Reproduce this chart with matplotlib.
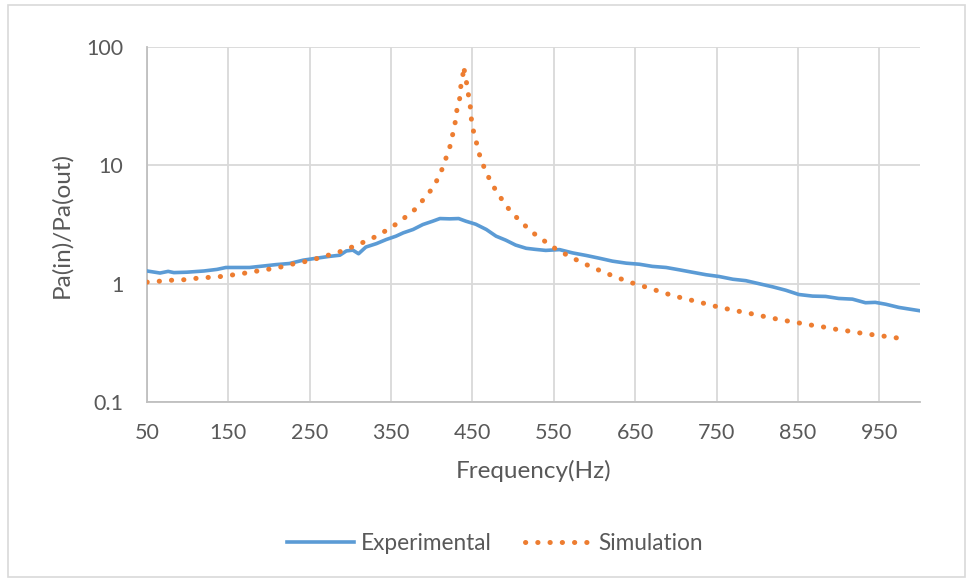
import matplotlib
matplotlib.use("Agg")
import matplotlib.pyplot as plt
from matplotlib.patches import Rectangle
from matplotlib.ticker import FixedLocator, NullLocator

# Experimental curve
exp_freq = [50, 66, 76, 83, 99, 120, 136, 147, 160, 176, 193, 209, 225, 242, 258,
            274, 287, 295, 303, 310, 319, 332, 344, 356, 365, 377, 389, 401, 410,
            422, 433, 442, 454, 467, 479, 491, 503, 516, 527, 540, 557, 573, 590,
            606, 622, 639, 655, 671, 688, 704, 720, 737, 753, 770, 786, 802, 819,
            835, 851, 868, 884, 900, 917, 933, 945, 958, 974, 1000]
exp_ratio = [1.28, 1.23, 1.27, 1.24, 1.25, 1.28, 1.32, 1.37, 1.37, 1.37, 1.41, 1.45,
             1.48, 1.58, 1.64, 1.70, 1.74, 1.89, 1.92, 1.79, 2.04, 2.18, 2.36, 2.52,
             2.69, 2.87, 3.16, 3.37, 3.55, 3.53, 3.55, 3.37, 3.18, 2.87, 2.52, 2.33,
             2.12, 1.99, 1.95, 1.91, 1.94, 1.82, 1.73, 1.64, 1.55, 1.49, 1.46, 1.40,
             1.37, 1.31, 1.25, 1.19, 1.15, 1.09, 1.06, 1.00, 0.94, 0.88, 0.81, 0.785,
             0.78, 0.75, 0.74, 0.69, 0.695, 0.67, 0.63, 0.59]

# Simulation curve
sim_freq = [50, 66, 81, 96, 111, 126, 141, 157, 171, 186, 201, 216, 230, 245, 260,
            274, 289, 302, 316, 330, 343, 356, 368, 380, 389, 399, 407, 413, 418,
            423, 426, 429, 431, 434, 435, 438, 439, 442, 444, 447, 448, 450, 454,
            457, 462, 468, 475, 483, 491, 501, 512, 523, 535, 547, 560, 573, 587,
            601, 615, 629, 643, 658, 672, 686, 700, 715, 730, 744, 759, 774, 789,
            804, 818, 833, 848, 863, 878, 892, 907, 922, 937, 952, 967, 985]
sim_ratio = [1.03, 1.05, 1.07, 1.08, 1.11, 1.13, 1.15, 1.19, 1.23, 1.28, 1.33, 1.39,
             1.47, 1.54, 1.64, 1.75, 1.88, 2.04, 2.24, 2.48, 2.79, 3.18, 3.67, 4.28,
             5.08, 6.17, 7.6, 9.4, 11.8, 14.9, 18.7, 23.5, 29.8, 34.7, 44.0, 55.6,
             68.5, 54.0, 42.8, 33.8, 26.7, 20.9, 16.6, 13.3, 10.5, 8.4, 6.75, 5.55,
             4.58, 3.81, 3.22, 2.73, 2.39, 2.07, 1.84, 1.65, 1.48, 1.34, 1.22, 1.12,
             1.03, 0.96, 0.895, 0.833, 0.78, 0.736, 0.695, 0.655, 0.62, 0.59, 0.564,
             0.536, 0.512, 0.489, 0.47, 0.45, 0.435, 0.416, 0.403, 0.387, 0.374,
             0.363, 0.351, 0.34]

x_ticks = [50, 150, 250, 350, 450, 550, 650, 750, 850, 950]
y_ticks = [0.1, 1, 10, 100]
y_labels = ["0.1", "1", "10", "100"]

BLUE = "#5B9BD5"
ORANGE = "#ED7D31"
GRID = "#D9D9D9"
TEXT = "#595959"

plt.rcParams['font.family'] = ['Lato', 'DejaVu Sans']

fig = plt.figure(figsize=(9.66, 5.78), dpi=100)
fig.patches.append(Rectangle((8 / 966, 1 - 577 / 578), 957 / 966, 572 / 578,
                             transform=fig.transFigure, fill=False,
                             edgecolor=GRID, linewidth=1.2))
ax = fig.add_axes([147 / 966, 1 - 402 / 578, 773 / 966, 355 / 578])

ax.plot(exp_freq, exp_ratio, color=BLUE, linewidth=2.6, label="Experimental",
        solid_joinstyle='round', zorder=3)
ax.plot(sim_freq, sim_ratio, color=ORANGE, linewidth=3.6, label="Simulation",
        linestyle=(0, (0.05, 2.4)), dash_capstyle='round', zorder=3)

ax.set_yscale('log')
ax.set_ylim(0.1, 100)
ax.set_xlim(50, 1000)
ax.xaxis.set_major_locator(FixedLocator(x_ticks))
ax.yaxis.set_major_locator(FixedLocator(y_ticks))
ax.yaxis.set_minor_locator(NullLocator())
ax.set_yticklabels(y_labels)
ax.tick_params(length=0, labelsize=15.5, labelcolor=TEXT)
ax.tick_params(axis='y', pad=17)
ax.tick_params(axis='x', pad=15)
ax.grid(True, color=GRID, linewidth=1.3)
ax.set_axisbelow(True)
for s in ['top', 'right']:
    ax.spines[s].set_visible(False)
for s in ['left', 'bottom']:
    ax.spines[s].set_color("#BFBFBF")
    ax.spines[s].set_linewidth(1.3)

ax.set_xlabel("Frequency(Hz)", fontsize=17.5, color=TEXT, labelpad=12)
ax.set_ylabel("Pa(in)/Pa(out)", fontsize=17.5, color=TEXT, labelpad=10)

leg = fig.legend(loc='center', bbox_to_anchor=(495 / 966, 1 - 543 / 578), ncol=2,
                 frameon=False, fontsize=16.3, handlelength=2.95, columnspacing=1.45,
                 handletextpad=0.3)
for t in leg.get_texts():
    t.set_color(TEXT)

fig.savefig("out.png", dpi=100)
